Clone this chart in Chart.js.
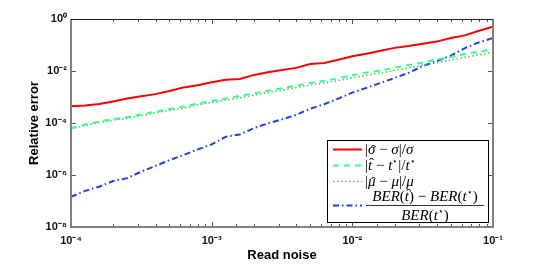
<!DOCTYPE html>
<html>
<head>
<meta charset="utf-8">
<script src="https://cdn.jsdelivr.net/npm/chart.js@4.4.1/dist/chart.umd.min.js"></script>
<style>
html,body{margin:0;padding:0;background:#fff;}
#wrap{width:545px;height:264px;position:relative;}
</style>
</head>
<body>
<div id="wrap"><canvas id="c" width="545" height="264"></canvas></div>
<script>
// Read noise (x)
const readNoise = [
  1.000e-4, 1.259e-4, 1.585e-4, 1.995e-4, 2.512e-4, 3.162e-4, 3.981e-4, 5.012e-4, 6.310e-4, 7.943e-4,
  1.000e-3, 1.259e-3, 1.585e-3, 1.995e-3, 2.512e-3, 3.162e-3, 3.981e-3, 5.012e-3, 6.310e-3, 7.943e-3,
  1.000e-2, 1.259e-2, 1.585e-2, 1.995e-2, 2.512e-2, 3.162e-2, 3.981e-2, 5.012e-2, 6.310e-2, 7.943e-2,
  1.000e-1
];
// |sigma_hat - sigma| / sigma
const errSigma = [
  4.37e-4, 4.68e-4, 5.37e-4, 6.76e-4, 8.71e-4, 1.07e-3, 1.29e-3, 1.70e-3, 2.34e-3, 2.82e-3,
  3.72e-3, 4.57e-3, 4.90e-3, 7.08e-3, 8.91e-3, 1.10e-2, 1.32e-2, 1.86e-2, 2.04e-2, 2.69e-2,
  3.72e-2, 4.57e-2, 6.03e-2, 7.76e-2, 9.12e-2, 0.112, 0.135, 0.186, 0.234, 0.355,
  0.501
];
// |t_hat - t*| / t*
const errT = [
  6.31e-5, 8.71e-5, 1.15e-4, 1.41e-4, 1.66e-4, 2.14e-4, 2.75e-4, 3.47e-4, 4.27e-4, 5.62e-4,
  7.08e-4, 8.71e-4, 1.10e-3, 1.38e-3, 1.74e-3, 2.19e-3, 2.75e-3, 3.47e-3, 4.17e-3, 5.25e-3,
  6.92e-3, 8.71e-3, 1.05e-2, 1.35e-2, 1.70e-2, 2.14e-2, 2.75e-2, 3.47e-2, 4.57e-2, 5.50e-2,
  6.76e-2
];
// |mu_hat - mu| / mu
const errMu = [
  5.89e-5, 7.94e-5, 1.05e-4, 1.29e-4, 1.51e-4, 1.91e-4, 2.45e-4, 3.09e-4, 3.72e-4, 4.90e-4,
  6.17e-4, 7.59e-4, 9.33e-4, 1.17e-3, 1.48e-3, 1.82e-3, 2.29e-3, 2.88e-3, 3.47e-3, 4.27e-3,
  5.50e-3, 6.92e-3, 8.32e-3, 1.05e-2, 1.32e-2, 1.66e-2, 2.09e-2, 2.63e-2, 3.39e-2, 4.17e-2,
  5.13e-2
];
// (BER(t_hat) - BER(t*)) / BER(t*)
const errBER = [
  1.45e-7, 2.45e-7, 3.55e-7, 5.89e-7, 7.59e-7, 1.35e-6, 2.24e-6, 3.72e-6, 5.89e-6, 9.55e-6,
  1.51e-5, 2.95e-5, 3.63e-5, 6.31e-5, 9.77e-5, 1.38e-4, 2.04e-4, 3.55e-4, 5.25e-4, 8.71e-4,
  1.48e-3, 2.24e-3, 3.47e-3, 5.37e-3, 8.51e-3, 1.55e-2, 2.40e-2, 3.89e-2, 7.59e-2, 0.126,
  0.186
];
const xTickDecades = [-4, -3, -2, -1];
const yTickDecades = [0, -2, -4, -6, -8];
const xTitle = 'Read noise';
const yTitle = 'Relative error';

const SUP = {'0':'⁰','1':'¹','2':'²','3':'³','4':'⁴','5':'⁵','6':'⁶','7':'⁷','8':'⁸','9':'⁹','-':'⁻'};
function pow10Label(e){ return '10' + String(e).split('').map(c => SUP[c]).join(''); }
function decadeOf(v){ const l = Math.log10(v); const r = Math.round(l); return Math.abs(l - r) < 1e-6 ? r : null; }

function pts(ys){ return readNoise.map((x, i) => ({x: x, y: ys[i]})); }

const datasets = [
  {label:'sigma', data: pts(errSigma), borderColor:'#ff0000', borderWidth:2, borderDash:[], legendKind:'sigma'},
  {label:'t', data: pts(errT), borderColor:'#33ff99', borderWidth:2, borderDash:[6,5], legendKind:'t'},
  {label:'mu', data: pts(errMu), borderColor:'#44cc44', borderWidth:1.5, borderDash:[1.5,2.5], legendKind:'mu'},
  {label:'BER', data: pts(errBER), borderColor:'#1f3cff', borderWidth:2, borderDash:[6,3,1.5,3], legendKind:'ber'}
];
datasets.forEach(d => { d.pointRadius = 0; d.tension = 0; d.fill = false; });

const AREA = {left:71, top:19, right:493, bottom:227};

// frame + inward ticks
const framePlugin = {
  id:'frame',
  afterDatasetsDraw(chart){
    const ctx = chart.ctx, a = chart.chartArea;
    const xs = chart.scales.x, ys = chart.scales.y;
    ctx.save();
    ctx.lineCap = 'butt';
    ctx.strokeStyle = '#555';
    ctx.lineWidth = 1;
    xs.ticks.forEach(t => {
      const px = Math.round(xs.getPixelForValue(t.value)) + 0.5;
      const major = decadeOf(t.value) !== null;
      const L = major ? 5 : 3;
      ctx.beginPath();
      ctx.moveTo(px, a.bottom); ctx.lineTo(px, a.bottom - L);
      ctx.moveTo(px, a.top); ctx.lineTo(px, a.top + L);
      ctx.stroke();
    });
    ys.ticks.forEach(t => {
      const d = decadeOf(t.value);
      if (d === null || yTickDecades.indexOf(d) < 0) return;
      const py = Math.round(ys.getPixelForValue(t.value)) + 0.5;
      ctx.beginPath();
      ctx.moveTo(a.left, py); ctx.lineTo(a.left + 5, py);
      ctx.moveTo(a.right, py); ctx.lineTo(a.right - 5, py);
      ctx.stroke();
    });
    ctx.strokeStyle = '#808080';
    ctx.lineWidth = 2;
    ctx.beginPath();
    ctx.moveTo(a.left, a.top); ctx.lineTo(a.left, a.bottom + 1);
    ctx.moveTo(a.left - 1, a.bottom); ctx.lineTo(a.right + 1, a.bottom);
    ctx.moveTo(a.right, a.bottom); ctx.lineTo(a.right, a.top);
    ctx.stroke();
    ctx.strokeStyle = '#222';
    ctx.lineWidth = 1;
    ctx.beginPath();
    ctx.moveTo(a.left, a.top + 0.5); ctx.lineTo(a.right, a.top + 0.5);
    ctx.stroke();
    ctx.restore();
  }
};

// math-ish legend
const FS = 15;
const SERIF = '"Liberation Serif", "DejaVu Serif", serif';
function segFont(s){ return (s.i ? 'italic ' : '') + (s.s ? 9 : FS) + 'px ' + SERIF; }
function measureRich(ctx, segs){
  let w = 0;
  segs.forEach(s => { ctx.font = segFont(s); w += ctx.measureText(s.t).width + (s.gap || 0); });
  return w;
}
function drawRich(ctx, segs, x, y){
  segs.forEach(s => {
    ctx.font = segFont(s);
    const w = ctx.measureText(s.t).width;
    ctx.fillText(s.t, x, s.s ? y - 6 : y);
    if (s.hat){
      ctx.font = FS + 'px ' + SERIF;
      const hw = ctx.measureText('ˆ').width;
      ctx.fillText('ˆ', x + w / 2 - hw / 2 + 1.5, y + (s.hatDy || 0));
    }
    x += w + (s.gap || 0);
  });
  return x;
}
const MINUS = {t:' \u2212 '};
const legendRows = {
  sigma: [{t:'|'}, {t:'σ', i:true, hat:true, hatDy:1}, MINUS, {t:'σ', i:true}, {t:'|/'}, {t:'σ', i:true}],
  t:     [{t:'|'}, {t:'t', i:true, hat:true, hatDy:-2}, MINUS, {t:'t', i:true}, {t:'⋆', s:true}, {t:'|/'}, {t:'t', i:true}, {t:'⋆', s:true}],
  mu:    [{t:'|'}, {t:'μ', i:true, hat:true, hatDy:1}, MINUS, {t:'μ', i:true}, {t:'|/'}, {t:'μ', i:true}]
};
const berNum = [{t:'BER', i:true}, {t:'('}, {t:'t', i:true, hat:true, hatDy:-2}, {t:')'}, MINUS, {t:'BER', i:true}, {t:'('}, {t:'t', i:true}, {t:'⋆', s:true}, {t:')'}];
const berDen = [{t:'BER', i:true}, {t:'('}, {t:'t', i:true}, {t:'⋆', s:true}, {t:')'}];

const legendPlugin = {
  id:'mathLegend',
  afterDraw(chart){
    const ctx = chart.ctx;
    const bx = 327.5, by = 140.5, bw = 161, bh = 82;
    ctx.save();
    ctx.fillStyle = '#fff';
    ctx.fillRect(bx, by, bw, bh);
    ctx.strokeStyle = '#000';
    ctx.lineWidth = 1;
    ctx.strokeRect(bx, by, bw, bh);
    const rowsY = [149, 165, 181, 205];
    chart.data.datasets.forEach((d, i) => {
      const y = rowsY[i] + 0.5;
      ctx.strokeStyle = d.borderColor;
      ctx.lineWidth = d.borderWidth;
      ctx.setLineDash(d.borderDash || []);
      ctx.beginPath(); ctx.moveTo(333, y); ctx.lineTo(362, y); ctx.stroke();
      ctx.setLineDash([]);
      ctx.fillStyle = '#000';
      ctx.textBaseline = 'alphabetic';
      ctx.textAlign = 'left';
      if (d.legendKind !== 'ber'){
        drawRich(ctx, legendRows[d.legendKind], 365, rowsY[i] + 5);
      } else {
        const x0 = 366, x1 = 484;
        const nw = measureRich(ctx, berNum);
        drawRich(ctx, berNum, (x0 + x1) / 2 - nw / 2, 201);
        ctx.strokeStyle = '#000'; ctx.lineWidth = 0.8;
        ctx.beginPath(); ctx.moveTo(x0, 205.5); ctx.lineTo(x1, 205.5); ctx.stroke();
        const dw = measureRich(ctx, berDen);
        drawRich(ctx, berDen, (x0 + x1) / 2 - dw / 2, 220);
      }
    });
    ctx.restore();
  }
};

new Chart(document.getElementById('c'), {
  type:'line',
  data:{datasets: datasets},
  options:{
    responsive:false,
    animation:false,
    devicePixelRatio:1,
    layout:{padding:{left:0, top:AREA.top, right:545 - AREA.right, bottom:0}},
    plugins:{legend:{display:false}, tooltip:{enabled:false}},
    scales:{
      x:{
        type:'logarithmic', position:'bottom', min:1e-4, max:1e-1,
        grid:{display:false, drawTicks:false},
        border:{display:false},
        ticks:{
          autoSkip:false, maxRotation:0, padding:7, color:'#111',
          font:{family:'"Liberation Sans", Arial, sans-serif', size:11, weight:'bold'},
          callback:(v) => { const d = decadeOf(v); return (d !== null && xTickDecades.indexOf(d) >= 0) ? pow10Label(d) : ''; }
        },
        title:{display:true, text:xTitle, color:'#000', padding:{top:0, bottom:1},
          font:{family:'"Liberation Sans", Arial, sans-serif', size:13, weight:'bold', lineHeight:1.2}},
        afterFit:(s) => { s.height = 264 - AREA.bottom; }
      },
      y:{
        type:'logarithmic', position:'left', min:1e-8, max:1,
        grid:{display:false, drawTicks:false},
        border:{display:false},
        ticks:{
          autoSkip:false, padding:4, color:'#111',
          font:{family:'"Liberation Sans", Arial, sans-serif', size:11, weight:'bold'},
          callback:(v) => { const d = decadeOf(v); return (d !== null && yTickDecades.indexOf(d) >= 0) ? pow10Label(d) : ''; }
        },
        title:{display:true, text:yTitle, color:'#000', padding:{top:27, bottom:0},
          font:{family:'"Liberation Sans", Arial, sans-serif', size:13, weight:'bold', lineHeight:1.2}},
        afterFit:(s) => { s.width = AREA.left; }
      }
    }
  },
  plugins:[framePlugin, legendPlugin]
});
</script>
</body>
</html>
